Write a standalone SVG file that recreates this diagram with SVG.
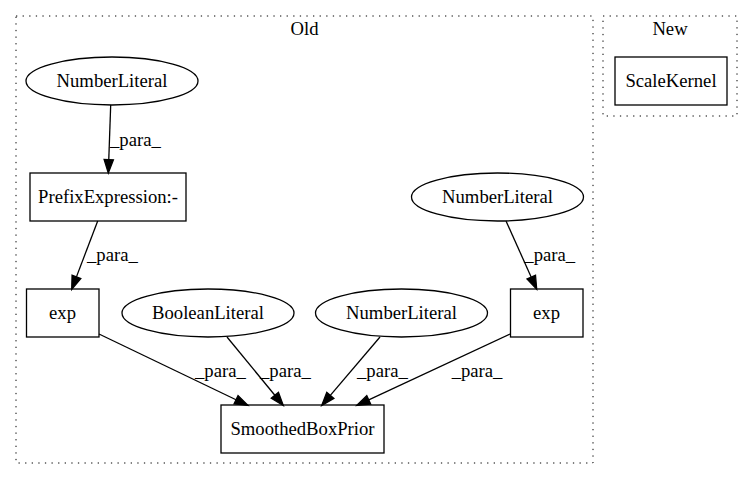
<svg xmlns="http://www.w3.org/2000/svg" width="753" height="480" viewBox="0 0 753 480">
<style>
.c{fill:none;stroke:#000;stroke-dasharray:1.3,5.3}
.n{fill:none;stroke:#000;stroke-width:1.3}
.e{fill:none;stroke:#000;stroke-width:1.3}
.a{fill:#000;stroke:#000;stroke-width:1.3}
.m{text-anchor:middle}
</style>
<rect x="0" y="0" width="753" height="480" fill="#fff"/>
<g font-family="Liberation Serif, Times New Roman, serif" font-size="18.67" fill="#000">
<g id="cluster_old">
<rect class="c" x="16" y="16" width="577" height="447"/>
<text class="m" x="304.5" y="35">Old</text>
</g>
<g id="cluster_new">
<rect class="c" x="603" y="16" width="134" height="100"/>
<text class="m" x="670" y="35">New</text>
</g>
<g id="node_scalekernel">
<rect class="n" x="615" y="57" width="112" height="48"/>
<text class="m" x="671" y="86.6">ScaleKernel</text>
</g>
<g id="node_numberliteral1">
<ellipse class="n" cx="112" cy="81" rx="86" ry="24"/>
<text class="m" x="112" y="86.6">NumberLiteral</text>
</g>
<g id="node_prefix">
<rect class="n" x="30" y="173" width="156" height="48"/>
<text class="m" x="108" y="202.6">PrefixExpression:-</text>
</g>
<g id="node_numberliteral2">
<ellipse class="n" cx="497.5" cy="197" rx="86" ry="24"/>
<text class="m" x="497.5" y="202.6">NumberLiteral</text>
</g>
<g id="node_exp1">
<rect class="n" x="26.5" y="289" width="72.5" height="48"/>
<text class="m" x="62.5" y="318.6">exp</text>
</g>
<g id="node_boolean">
<ellipse class="n" cx="208" cy="313" rx="86" ry="24"/>
<text class="m" x="208" y="318.6">BooleanLiteral</text>
</g>
<g id="node_numberliteral3">
<ellipse class="n" cx="401.5" cy="313" rx="86" ry="24"/>
<text class="m" x="401.5" y="318.6">NumberLiteral</text>
</g>
<g id="node_exp2">
<rect class="n" x="510.5" y="289" width="72.5" height="48"/>
<text class="m" x="546.5" y="318.6">exp</text>
</g>
<g id="node_smoothed">
<rect class="n" x="221" y="405" width="163" height="48"/>
<text class="m" x="302.5" y="434.6">SmoothedBoxPrior</text>
</g>
<g id="connectors">
<path class="e" d="M110.7,105 L108.77,159.71"/>
<polygon class="a" points="113.44,159.87 108.3,173 104.1,159.55"/>
<text x="110" y="145.5">_para_</text>
<path class="e" d="M97.7,221 L76.43,276.88"/>
<polygon class="a" points="80.79,278.54 71.7,289.3 72.07,275.22"/>
<text x="87" y="260.5">_para_</text>
<path class="e" d="M506,221 L531.25,277.17"/>
<polygon class="a" points="535.51,275.26 536.7,289.3 526.99,279.08"/>
<text x="524.3" y="260.5">_para_</text>
<path class="e" d="M99,334 L236.02,399.74"/>
<polygon class="a" points="234,403.95 248,405.5 238.04,395.53"/>
<text x="195" y="376.5">_para_</text>
<path class="e" d="M227,337 L274.85,395.23"/>
<polygon class="a" points="271.24,398.2 283.3,405.5 278.46,392.26"/>
<text x="260" y="376.5">_para_</text>
<path class="e" d="M380,337 L330.32,395.37"/>
<polygon class="a" points="333.88,398.4 321.7,405.5 326.76,392.34"/>
<text x="357" y="376.5">_para_</text>
<path class="e" d="M510,334 L368.75,399.88"/>
<polygon class="a" points="370.72,404.11 356.7,405.5 366.78,395.65"/>
<text x="451.7" y="376.5">_para_</text>
</g>
</g>
</svg>
